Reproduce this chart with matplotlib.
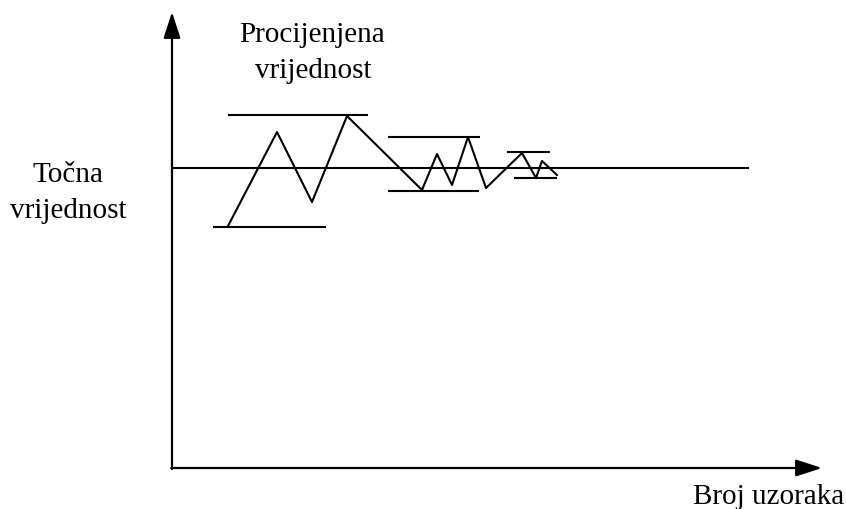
import matplotlib.pyplot as plt

# schematic: estimate converging on the true value as samples grow
# coordinates, in image pixels (y grows downward)
est_x = [228, 277, 312, 347, 422, 437, 452, 468, 486, 522, 536, 542, 557]
est_y = [227, 133, 203, 117, 191, 155, 186, 138, 189, 154, 179, 162, 176]

# bounding bars around each oscillation: (x_start, x_end, y)
bar_x0 = [228, 213, 388, 388, 507, 514]
bar_x1 = [368, 326, 480, 479, 550, 557]
bar_y = [116, 228, 138, 192, 153, 179]

true_y = 169
true_x = [173, 748]

origin = (172, 469)
y_tip = 13
x_tip = 822

fig = plt.figure(figsize=(8.46, 5.10), dpi=100)
ax = fig.add_axes([0, 0, 1, 1])
ax.set_xlim(0, 846)
ax.set_ylim(510, 0)
ax.axis('off')

font = dict(family=['Liberation Serif', 'DejaVu Serif'], fontsize=21)

# axes with arrows
arrow = dict(arrowstyle='-|>,head_length=16,head_width=5.2', mutation_scale=1,
             color='black', lw=1.6, shrinkA=0, shrinkB=0)
ax.annotate('', xy=(origin[0], y_tip), xytext=(origin[0], origin[1] + 1), arrowprops=arrow)
ax.annotate('', xy=(x_tip, origin[1]), xytext=(origin[0] - 0.8, origin[1]), arrowprops=arrow)

ax.plot(true_x, [true_y, true_y], color='black', lw=1.5)
ax.plot(est_x, est_y, color='black', lw=1.5)
ax.hlines(bar_y, bar_x0, bar_x1, color='black', lw=1.5)

ax.text(312, 42, 'Procijenjena', ha='center', va='baseline', **font)
ax.text(313, 78, 'vrijednost', ha='center', va='baseline', **font)
ax.text(68, 182, 'Točna', ha='center', va='baseline', **font)
ax.text(68, 218, 'vrijednost', ha='center', va='baseline', **font)
ax.text(844, 504, 'Broj uzoraka', ha='right', va='baseline', **font)

fig.savefig('out.png', dpi=100)
